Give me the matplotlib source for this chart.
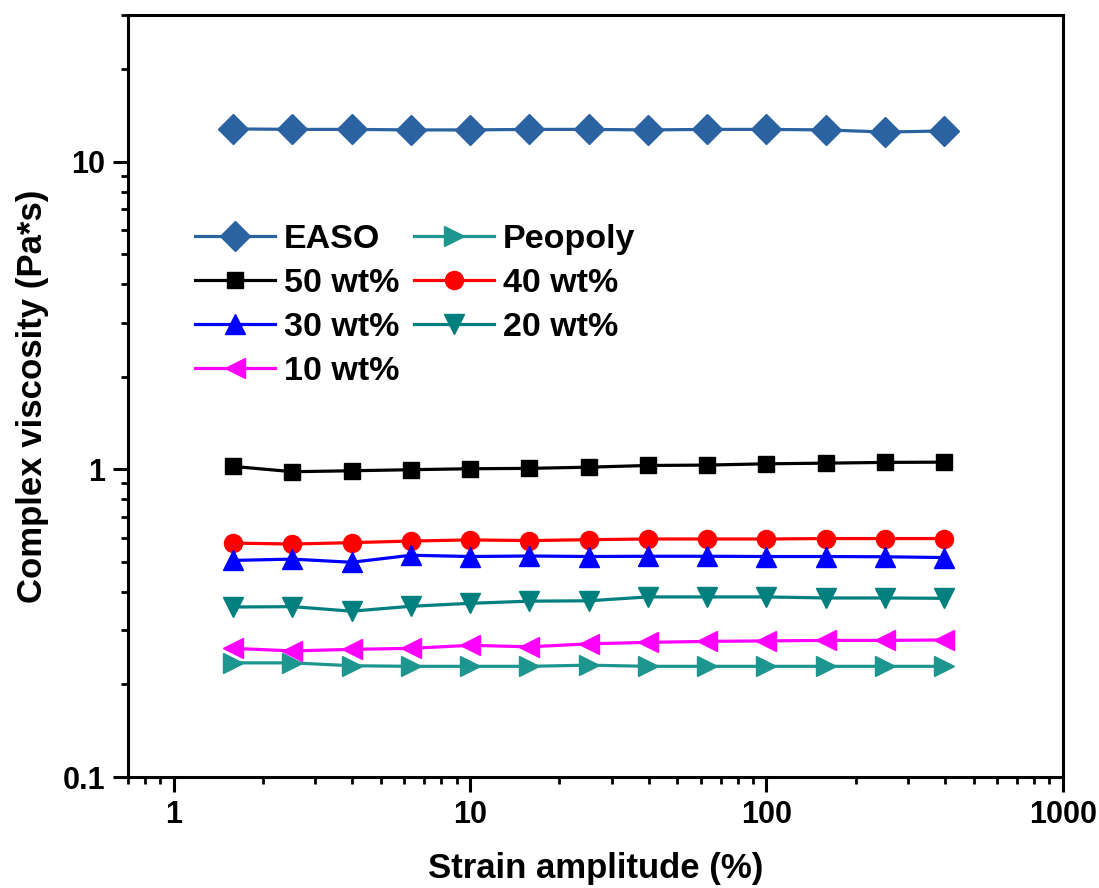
import matplotlib
matplotlib.use("Agg")
import matplotlib.pyplot as plt
from matplotlib.ticker import LogLocator, NullFormatter, FixedLocator, FixedFormatter

plt.rcParams['font.family'] = ['Liberation Sans', 'DejaVu Sans']
plt.rcParams['font.weight'] = 'bold'

strain = [1.585, 2.512, 3.981, 6.310, 10.0, 15.85, 25.12, 39.81, 63.10, 100.0, 158.5, 251.2, 398.1]

easo    = [12.8, 12.75, 12.75, 12.7, 12.7, 12.75, 12.75, 12.7, 12.75, 12.75, 12.7, 12.5, 12.6]
peopoly = [0.235, 0.235, 0.230, 0.229, 0.229, 0.229, 0.231, 0.229, 0.229, 0.229, 0.229, 0.229, 0.229]
wt50    = [1.023, 0.983, 0.990, 0.998, 1.005, 1.008, 1.017, 1.030, 1.033, 1.043, 1.048, 1.054, 1.056]
wt40    = [0.576, 0.572, 0.578, 0.585, 0.590, 0.587, 0.591, 0.594, 0.594, 0.594, 0.596, 0.596, 0.596]
wt30    = [0.506, 0.511, 0.499, 0.526, 0.521, 0.523, 0.521, 0.522, 0.522, 0.521, 0.521, 0.520, 0.517]
wt20    = [0.357, 0.358, 0.346, 0.359, 0.367, 0.373, 0.374, 0.385, 0.385, 0.385, 0.382, 0.382, 0.381]
wt10    = [0.262, 0.257, 0.260, 0.262, 0.268, 0.265, 0.271, 0.274, 0.276, 0.277, 0.278, 0.278, 0.279]

x_ticks = [1, 10, 100, 1000]
x_tick_labels = ['1', '10', '100', '1000']
y_ticks = [0.1, 1, 10]
y_tick_labels = ['0.1', '1', '10']

fig = plt.figure(figsize=(10.99, 8.88), dpi=100)
ax = fig.add_axes([0.1165, 0.125, 0.8505, 0.858])

lw = 2.3
h_easo, = ax.plot(strain, easo, '-D', color='#2B62A2', lw=lw, ms=15, label='EASO')
h_peo, = ax.plot(strain, peopoly, '->', color='#1E9690', lw=lw, ms=15, label='Peopoly')
h50, = ax.plot(strain, wt50, '-s', color='black', lw=lw, ms=11.5, label='50 wt%')
h40, = ax.plot(strain, wt40, '-o', color='#FF0000', lw=lw, ms=13, label='40 wt%')
h30, = ax.plot(strain, wt30, '-^', color='#0000FF', lw=lw, ms=15, label='30 wt%')
h20, = ax.plot(strain, wt20, '-v', color='#007F7F', lw=lw, ms=15, label='20 wt%')
h10, = ax.plot(strain, wt10, '-<', color='#FF00FF', lw=lw, ms=15, label='10 wt%')

ax.set_xscale('log')
ax.set_yscale('log')
ax.set_xlim(0.7, 1000)
ax.set_ylim(0.1, 30)

ax.xaxis.set_major_locator(FixedLocator(x_ticks))
ax.xaxis.set_major_formatter(FixedFormatter(x_tick_labels))
ax.yaxis.set_major_locator(FixedLocator(y_ticks))
ax.yaxis.set_major_formatter(FixedFormatter(y_tick_labels))
ax.xaxis.set_minor_locator(LogLocator(base=10, subs=range(2, 10)))
ax.yaxis.set_minor_locator(LogLocator(base=10, subs=range(2, 10)))
ax.xaxis.set_minor_formatter(NullFormatter())
ax.yaxis.set_minor_formatter(NullFormatter())

for s in ax.spines.values():
    s.set_linewidth(2.2)
ax.tick_params(which='major', direction='out', length=10.5, width=2.2, labelsize=22)
ax.tick_params(axis='x', which='major', pad=6)
ax.tick_params(axis='y', which='major', pad=6)
ax.tick_params(which='minor', direction='out', length=5, width=2.0)
ax.tick_params(top=False, right=False)
for lab in ax.get_xticklabels() + ax.get_yticklabels():
    lab.set_fontweight('bold')

ax.set_xlabel('Strain amplitude (%)', fontsize=25, fontweight='bold', labelpad=16)
ax.set_ylabel('Complex viscosity (Pa*s)', fontsize=25, fontweight='bold', labelpad=10)

handles = [h_easo, h50, h30, h10, h_peo, h40, h20]
leg = ax.legend(handles=handles, labels=[h.get_label() for h in handles], ncol=2,
                loc='upper left', bbox_to_anchor=(0.072, 0.726), frameon=False,
                prop={'size': 24.5, 'weight': 'bold'}, handlelength=2.35,
                handletextpad=0.25, columnspacing=0.45, labelspacing=0.38,
                borderpad=0, borderaxespad=0)

fig.savefig('out.png', dpi=100)
